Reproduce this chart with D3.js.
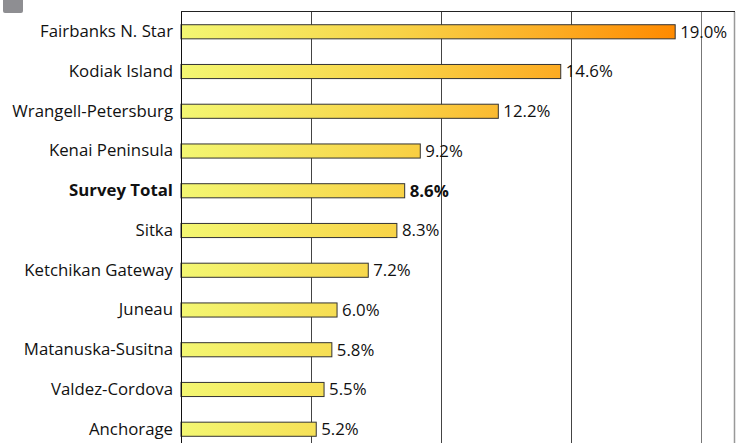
<!DOCTYPE html>
<html>
<head>
<meta charset="utf-8">
<script src="https://cdn.jsdelivr.net/npm/d3@7"></script>
<style>
  body { margin: 0; background: #fff; }
  svg { display: block; font-family: "Open Sans", "Noto Sans", sans-serif; }
</style>
</head>
<body>
<div id="chart"></div>
<script>
// data
var categories = ["Fairbanks N. Star", "Kodiak Island", "Wrangell-Petersburg", "Kenai Peninsula",
  "Survey Total", "Sitka", "Ketchikan Gateway", "Juneau", "Matanuska-Susitna", "Valdez-Cordova", "Anchorage"];
var values = [19.0, 14.6, 12.2, 9.2, 8.6, 8.3, 7.2, 6.0, 5.8, 5.5, 5.2];
var boldCategory = "Survey Total";
var gridTicks = [5, 10, 15, 20];

var width = 737, height = 443;
var plot = { left: 181, top: 12, right: 735, bottom: 449 };
var fontSize = "16.8px";

var svg = d3.select("#chart").append("svg")
  .attr("width", width)
  .attr("height", height);

var x = d3.scaleLinear().domain([0, 21.3]).range([plot.left, plot.right]);
var y = d3.scaleBand().domain(categories).range([plot.top, plot.bottom]).paddingInner(0.645).paddingOuter(0.32);

// gradient shared by all bars, running along the value axis
var grad = svg.append("defs").append("linearGradient")
  .attr("id", "barGrad")
  .attr("gradientUnits", "userSpaceOnUse")
  .attr("x1", x(0)).attr("x2", x(19)).attr("y1", 0).attr("y2", 0);
grad.append("stop").attr("offset", "0%").attr("stop-color", "#f3f772");
grad.append("stop").attr("offset", "45%").attr("stop-color", "#f8d246");
grad.append("stop").attr("offset", "75%").attr("stop-color", "#fcad24");
grad.append("stop").attr("offset", "100%").attr("stop-color", "#ff8a00");

// little grey marker at the top left (cropped legend)
svg.append("rect")
  .attr("x", 3).attr("y", -4).attr("width", 20).attr("height", 17)
  .attr("rx", 2).attr("fill", "#8e8e92");

// plot frame
svg.append("line")
  .attr("x1", plot.left).attr("x2", plot.right)
  .attr("y1", plot.top - 0.5).attr("y2", plot.top - 0.5)
  .style("stroke", "#222").style("stroke-width", 1);
svg.append("line")
  .attr("x1", plot.right - 0.5).attr("x2", plot.right - 0.5)
  .attr("y1", plot.top).attr("y2", height)
  .style("stroke", "#999").style("stroke-width", 1.5);

// vertical gridlines
svg.selectAll(".grid")
  .data(gridTicks)
  .enter()
  .append("line")
  .attr("class", "grid")
  .attr("x1", function(d) { return Math.round(x(d)) + 0.5; })
  .attr("x2", function(d) { return Math.round(x(d)) + 0.5; })
  .attr("y1", plot.top).attr("y2", height)
  .style("stroke", function(d) { return d === 20 ? "#777" : "#444"; })
  .style("stroke-width", 1);

// bars
svg.selectAll(".bar")
  .data(values)
  .enter()
  .append("rect")
  .attr("class", "bar")
  .attr("x", x(0))
  .attr("y", function(d, i) { return y(categories[i]); })
  .attr("width", function(d) { return x(d) - x(0); })
  .attr("height", y.bandwidth())
  .attr("fill", "url(#barGrad)")
  .style("stroke", "#333")
  .style("stroke-width", 1);

// value axis line (zero)
svg.append("line")
  .attr("x1", plot.left + 0.5).attr("x2", plot.left + 0.5)
  .attr("y1", plot.top).attr("y2", height)
  .style("stroke", "#111").style("stroke-width", 1);

// category axis labels
var yAxis = d3.axisLeft(y).tickSize(0).tickPadding(8);
var gy = svg.append("g")
  .attr("transform", "translate(" + plot.left + ",0)")
  .call(yAxis);
gy.select(".domain").remove();
gy.selectAll("text")
  .style("font-size", fontSize)
  .style("fill", "#111")
  .style("font-family", "\"Open Sans\", sans-serif")
  .style("font-weight", function(d) { return d === boldCategory ? "bold" : "normal"; });

// value labels
svg.selectAll(".val")
  .data(values)
  .enter()
  .append("text")
  .attr("class", "val")
  .attr("x", function(d) { return x(d) + 5; })
  .attr("y", function(d, i) { return y(categories[i]) + y.bandwidth() / 2; })
  .attr("dy", "0.35em")
  .style("font-size", fontSize)
  .style("fill", "#111")
  .style("font-weight", function(d, i) { return categories[i] === boldCategory ? "bold" : "normal"; })
  .text(function(d) { return d.toFixed(1) + "%"; });
</script>
</body>
</html>
